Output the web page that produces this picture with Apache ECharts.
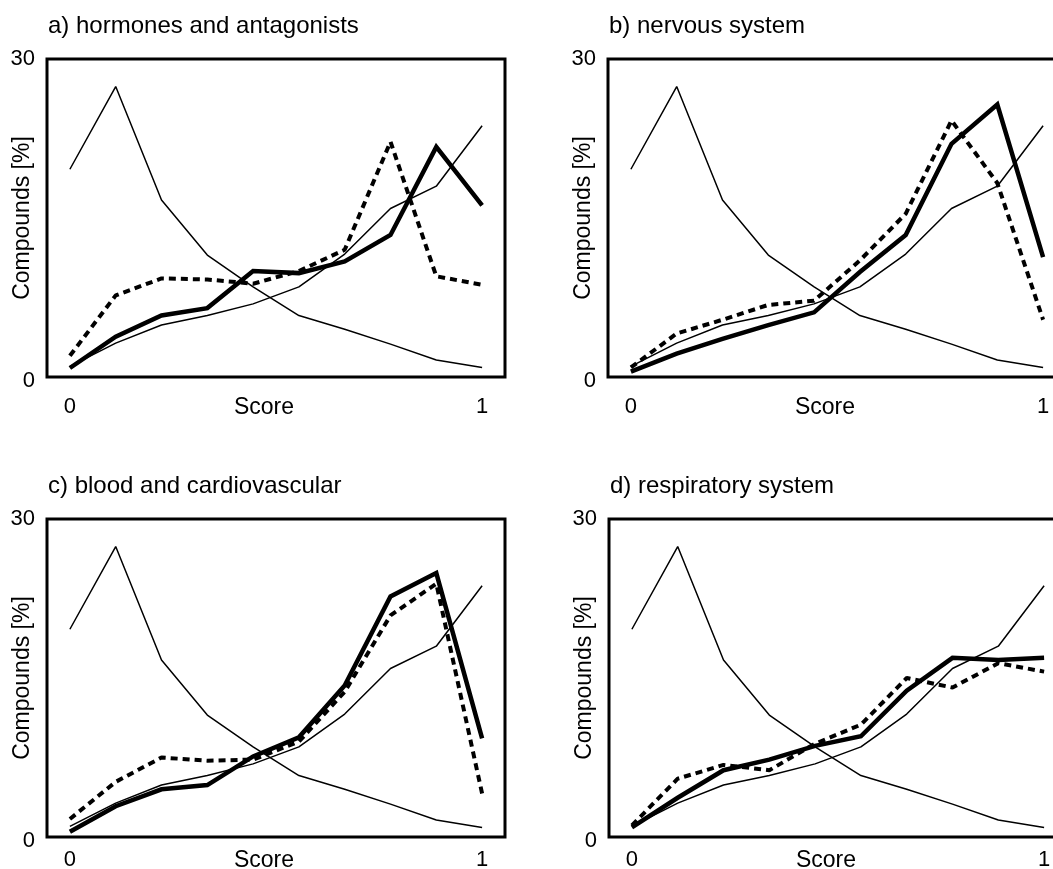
<!DOCTYPE html>
<html>
    <head>
        <meta charset="utf-8">
        <title>Score distributions</title>
        <script src="https://cdn.jsdelivr.net/npm/echarts@6/dist/echarts.min.js"></script>
        <style>
            html, body { margin: 0; padding: 0; background: #fff; }
            #chart1 { width: 1053px; height: 869px; }
        </style>
    </head>
    <body>
        <div id="chart1"></div>
    </body>
    <script>
        // x axis: ten score bins, only the ends are labelled
        var scoreLabels = ['0', '', '', '', '', '', '', '', '', '1'];
        var yTicks = [0, 30];

        // thin reference curves, same in every panel
        var refFalling = [19.6, 27.4, 16.7, 11.5, 8.5, 5.8, 4.5, 3.1, 1.6, 0.9];
        var refRising = [1.0, 3.2, 4.9, 5.8, 6.9, 8.5, 11.6, 15.9, 18.0, 23.7];

        // a) hormones and antagonists
        var hormonesSolid = [0.85, 3.8, 5.8, 6.5, 10.0, 9.8, 10.9, 13.4, 21.7, 16.2];
        var hormonesDashed = [2.0, 7.7, 9.3, 9.2, 8.8, 10.0, 12.0, 22.2, 9.5, 8.7];
        // b) nervous system
        var nervousSolid = [0.5, 2.2, 3.6, 4.9, 6.1, 9.9, 13.4, 22.0, 25.7, 11.3];
        var nervousDashed = [0.9, 4.1, 5.4, 6.8, 7.2, 11.0, 15.4, 24.2, 18.3, 5.4];
        // c) blood and cardiovascular
        var bloodSolid = [0.5, 2.9, 4.5, 4.9, 7.6, 9.4, 14.3, 22.7, 24.9, 9.3];
        var bloodDashed = [1.7, 5.2, 7.5, 7.2, 7.3, 9.0, 13.7, 20.9, 23.9, 4.1];
        // d) respiratory system
        var respSolid = [0.9, 3.7, 6.3, 7.3, 8.6, 9.5, 13.8, 16.9, 16.7, 16.9];
        var respDashed = [1.1, 5.5, 6.8, 6.3, 8.8, 10.6, 15.0, 14.1, 16.4, 15.6];

        var panelTitles = ['a) hormones and antagonists', 'b) nervous system',
                           'c) blood and cardiovascular', 'd) respiratory system'];
        var panelSolid = [hormonesSolid, nervousSolid, bloodSolid, respSolid];
        var panelDashed = [hormonesDashed, nervousDashed, bloodDashed, respDashed];

        // box positions of the four panels (right-hand boxes run off the page)
        // gap = distance of the x labels below the box
        var boxes = [
            { left: 47, top: 59, gap: 19 },
            { left: 608, top: 59, gap: 19 },
            { left: 47, top: 519, gap: 12 },
            { left: 609, top: 519, gap: 12 }
        ];
        var boxW = 458, boxH = 318;
        var font = '"Liberation Sans", Arial, Helvetica, sans-serif';

        var grids = [], xAxes = [], yAxes = [], series = [], titles = [];

        boxes.forEach(function (b, i) {
            grids.push({
                left: b.left, top: b.top, width: boxW, height: boxH,
                outerBoundsMode: 'none', containLabel: false,
                show: true, borderColor: '#000', borderWidth: 3, backgroundColor: 'transparent'
            });
            titles.push({
                text: panelTitles[i], left: b.left + 1, top: b.top - 45, padding: 0,
                textStyle: { fontFamily: font, fontSize: 24, fontWeight: 'normal', color: '#000' }
            });
            xAxes.push({
                type: 'category', gridIndex: i, boundaryGap: true,
                data: scoreLabels.map(function (s, k) { return String(k); }),
                axisLine: { show: false }, axisTick: { show: false }, splitLine: { show: false },
                axisLabel: {
                    interval: 0, margin: b.gap, fontFamily: font, fontSize: 22, color: '#000',
                    formatter: function (v, idx) { return scoreLabels[idx]; }
                },
                name: 'Score', nameLocation: 'middle', nameGap: b.gap, nameMoveOverlap: false,
                nameTextStyle: { fontFamily: font, fontSize: 23, color: '#000', padding: [0, 24, 0, 0] }
            });
            yAxes.push({
                type: 'value', gridIndex: i, min: yTicks[0], max: yTicks[1], interval: 30,
                axisLine: { show: false }, axisTick: { show: false }, splitLine: { show: false },
                axisLabel: {
                    margin: 12, fontFamily: font, fontSize: 22, color: '#000',
                    formatter: function (v) { return v === 0 ? '{low|0}' : String(v); },
                    rich: { low: { fontFamily: font, fontSize: 22, color: '#000', padding: [8, 0, 0, 0] } }
                },
                name: 'Compounds [%]', nameLocation: 'middle', nameGap: 13, nameMoveOverlap: false,
                nameTextStyle: { fontFamily: font, fontSize: 23, color: '#000' }
            });
            var thin = { color: '#000', width: 1.5 };
            series.push({ type: 'line', xAxisIndex: i, yAxisIndex: i, data: refFalling,
                symbol: 'none', lineStyle: thin, silent: true, animation: false });
            series.push({ type: 'line', xAxisIndex: i, yAxisIndex: i, data: refRising,
                symbol: 'none', lineStyle: thin, silent: true, animation: false });
            series.push({ type: 'line', xAxisIndex: i, yAxisIndex: i, data: panelDashed[i],
                symbol: 'none', lineStyle: { color: '#000', width: 4, type: [7, 5], cap: 'butt' },
                silent: true, animation: false });
            series.push({ type: 'line', xAxisIndex: i, yAxisIndex: i, data: panelSolid[i],
                symbol: 'none', lineStyle: { color: '#000', width: 4.5, join: 'miter' },
                silent: true, animation: false });
        });

        var myChart1 = echarts.init(document.getElementById('chart1'), null, { renderer: 'canvas' });
        myChart1.setOption({
            backgroundColor: '#fff',
            animation: false,
            title: titles,
            grid: grids,
            xAxis: xAxes,
            yAxis: yAxes,
            series: series
        });
    </script>
</html>
